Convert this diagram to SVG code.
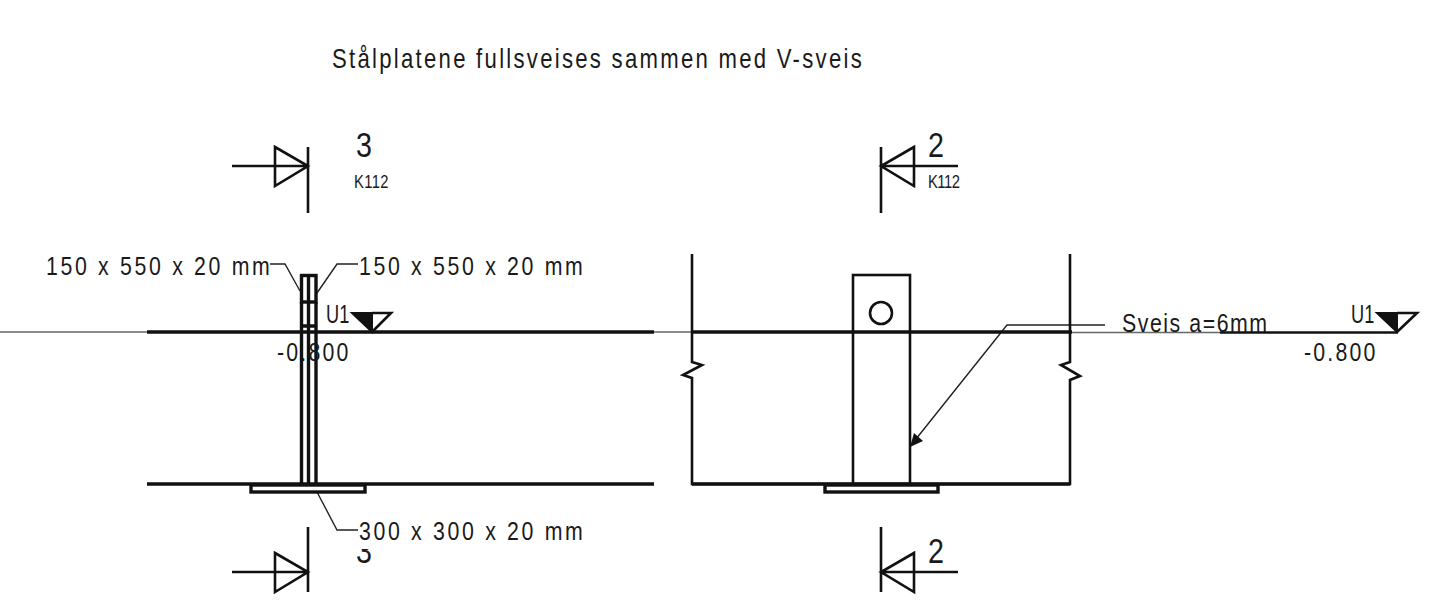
<svg xmlns="http://www.w3.org/2000/svg" width="1432" height="609" viewBox="0 0 1432 609">
<style>
text{font-family:"Liberation Sans",Arial,sans-serif;fill:#1a1a1a}
.t{font-size:27px}
.d{font-size:26px}
.s{font-size:18px}
.b{font-size:35px}
.k{stroke:#111;stroke-width:3.400;fill:none}
.m{stroke:#111;stroke-width:2.600;fill:none}
.h{stroke:#222;stroke-width:1.400;fill:none}
.g{stroke:#666;stroke-width:1.400;fill:none}
</style>
<defs>
<clipPath id="lower3"><rect x="350" y="549" width="30" height="20"/></clipPath>
</defs>
<rect width="1432" height="609" fill="#fff"/>
<text class="t" transform="translate(332 68) scale(.82 1)" textLength="646">Stålplatene fullsveises sammen med V-sveis</text>
<g id="connectors">
<path class="g" d="M0 332H147M654 332H692M1072 332.500H1220"/>
<path class="m" d="M1220 332.500H1397"/>
<path class="h" d="M270 264H285L300 291"/>
<path class="h" d="M358 264H337L317 293"/>
<path class="h" d="M317 492L337 530H358"/>
<path class="h" d="M1105 325H1007L916 439"/>
<polygon points="910,447 914,433 923,441" fill="#111"/>
</g>
<g id="section-3-top">
<path class="m" d="M308 147V213M232 166H308M275 147L308 166L275 186Z"/>
<text class="b" transform="translate(356 157) scale(.82 1)">3</text>
<text class="s" transform="translate(354 188) scale(.82 1)" textLength="42">K112</text>
</g>
<g id="section-2-top">
<path class="m" d="M881 147V213M958 166H881M914 147L881 166L914 186Z"/>
<text class="b" transform="translate(928 157) scale(.82 1)">2</text>
<text class="s" transform="translate(928 188) scale(.82 1)" textLength="39">K112</text>
</g>
<g id="section-3-bottom">
<path class="m" d="M308 527V592M232 572H308M275 553L308 572L275 592Z"/>
<g clip-path="url(#lower3)"><text class="b" transform="translate(356 563) scale(.82 1)">3</text></g>
</g>
<g id="section-2-bottom">
<path class="m" d="M881 527V592M958 572H881M914 553L881 572L914 592Z"/>
<text class="b" transform="translate(928 563) scale(.82 1)">2</text>
</g>
<g id="left-section">
<path class="k" d="M147 332H654M147 484H654"/>
<rect class="k" x="251" y="485" width="114" height="7"/>
<rect class="k" x="301.500" y="275.500" width="14.500" height="26.500"/>
<path class="k" d="M301.500 302V484M308.500 275V484M316 302V484M300 326H317"/>
<text class="d" transform="translate(46 275) scale(.82 1)" textLength="273">150 x 550 x 20 mm</text>
<text class="d" transform="translate(359 275) scale(.82 1)" textLength="273">150 x 550 x 20 mm</text>
<text class="d" transform="translate(359 540) scale(.82 1)" textLength="273">300 x 300 x 20 mm</text>
<text class="d" transform="translate(326 323) scale(.7 1)">U1</text>
<text class="d" transform="translate(277 361) scale(.82 1)" textLength="87">-0.800</text>
<path d="M352 313H372V332Z" fill="#111" stroke="#111" stroke-width="2"/>
<path class="m" d="M372 313H391L372 332"/>
</g>
<g id="right-section">
<path class="k" d="M692 332H1072"/>
<path class="m" d="M692 254V362L702 365L683 375L692 378V484H1070V380L1080 376L1061 365L1070 362V254"/>
<path class="k" d="M692 484H1070"/>
<rect class="m" x="853" y="275" width="57" height="209"/>
<circle class="m" cx="881" cy="313" r="11"/>
<rect class="k" x="825" y="485" width="113" height="7"/>
<text class="d" transform="translate(1122 332) scale(.82 1)" textLength="177">Sveis a=6mm</text>
</g>
<g id="right-level">
<text class="d" transform="translate(1351 323) scale(.7 1)">U1</text>
<text class="d" transform="translate(1304 361) scale(.82 1)" textLength="87">-0.800</text>
<path d="M1377 313H1397V332Z" fill="#111" stroke="#111" stroke-width="2"/>
<path class="m" d="M1397 313H1417L1397 332"/>
</g>
</svg>
